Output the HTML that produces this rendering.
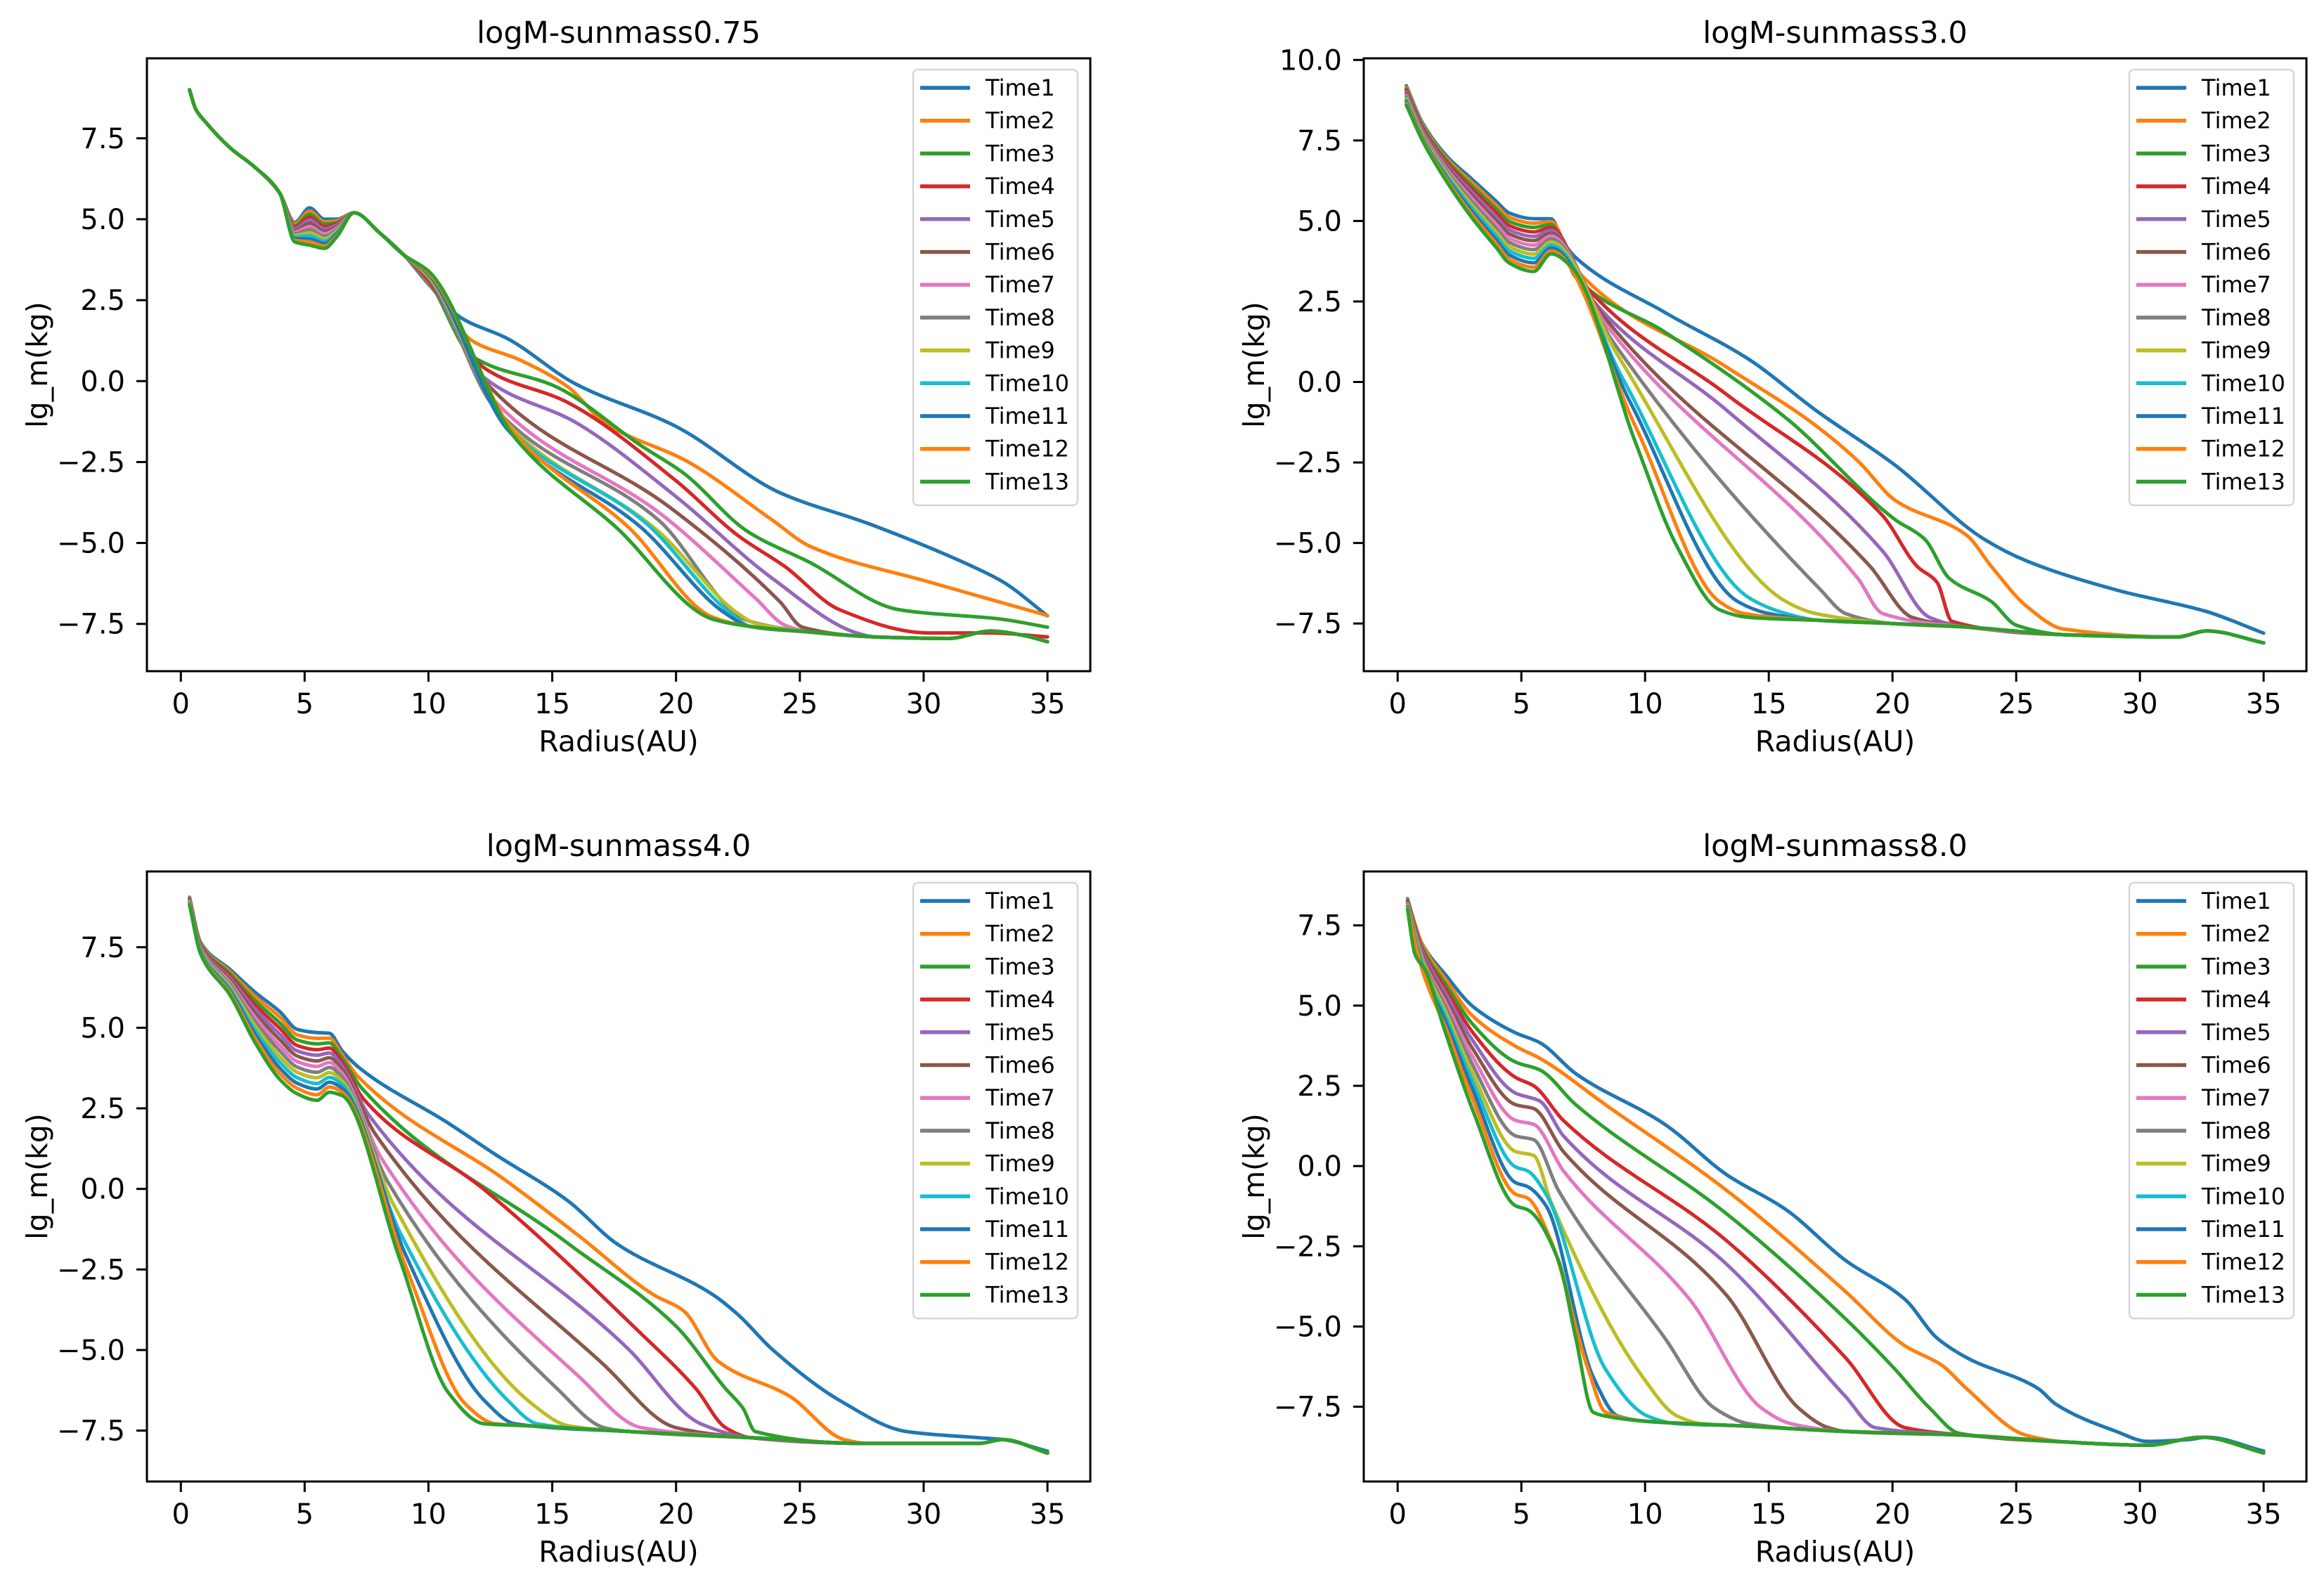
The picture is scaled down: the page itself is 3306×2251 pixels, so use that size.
<!DOCTYPE html>
<html><head><meta charset="utf-8"><style>
html,body{margin:0;padding:0;background:#fff;}
svg{display:block;font-family:"DejaVu Sans","Liberation Sans",sans-serif;}
</style></head><body>
<svg id="fig" xmlns="http://www.w3.org/2000/svg" width="3306" height="2251" viewBox="0 0 3306 2251"></svg>
<script>
// ---------- DATA ----------
const seriesNames = ["Time1","Time2","Time3","Time4","Time5","Time6","Time7","Time8","Time9","Time10","Time11","Time12","Time13"];
const xTicks = [0,5,10,15,20,25,30,35];
const xTickLabels = ["0","5","10","15","20","25","30","35"];
const yTicksA = [-7.5,-5,-2.5,0,2.5,5,7.5];
const yTicksB = [-7.5,-5,-2.5,0,2.5,5,7.5,10];
const panelTitles = ["logM-sunmass0.75","logM-sunmass3.0","logM-sunmass4.0","logM-sunmass8.0"];

// Panel 1: sunmass 0.75
const p1Series = [
 [[0.35,9.0],[0.6,8.4],[1,8.0],[2,7.2],[3,6.6],[4,5.8],[4.6,4.9],[5.2,5.35],[5.8,5.0],[6.3,5.0],[7,5.2],[8,4.6],[9,3.9],[10,3.0],[11.27,1.98],[13.2,1.31],[15.9,-0.07],[20,-1.4],[24.2,-3.45],[27.8,-4.41],[31.9,-5.7],[33.2,-6.2],[35,-7.25]],
 [[0.35,9.0],[0.6,8.4],[1,8.0],[2,7.2],[3,6.6],[4,5.8],[4.6,4.85],[5.2,5.25],[5.8,4.92],[6.3,4.95],[7,5.2],[8,4.6],[9,3.9],[10,3.05],[11.76,1.25],[13.7,0.65],[15.65,-0.19],[17.1,-1.28],[20.5,-2.5],[23.9,-4.3],[25.4,-5.1],[30.2,-6.2],[35,-7.24]],
 [[0.35,9.0],[0.6,8.4],[1,8.0],[2,7.2],[3,6.6],[4,5.8],[4.6,4.8],[5.2,5.15],[5.8,4.85],[6.3,4.9],[7,5.2],[8,4.6],[9,3.9],[10,3.1],[11.76,0.77],[15.2,-0.19],[18.6,-2.0],[20.3,-2.84],[22.9,-4.65],[25.4,-5.6],[29,-7.06],[33.2,-7.36],[35,-7.6]],
 [[0.35,9.0],[0.6,8.4],[1,8.0],[2,7.2],[3,6.6],[4,5.8],[4.6,4.75],[5.2,5.06],[5.8,4.77],[6.3,4.86],[7,5.2],[8,4.6],[9,3.9],[10,3.1],[12.25,0.41],[15.65,-0.67],[20,-3.08],[22.5,-4.77],[24.4,-5.73],[26.6,-7.06],[30.2,-7.78],[32.7,-7.78],[35,-7.9]],
 [[0.35,9.0],[0.6,8.4],[1,8.0],[2,7.2],[3,6.6],[4,5.8],[4.6,4.7],[5.2,4.97],[5.8,4.7],[6.3,4.82],[7,5.2],[8,4.6],[9,3.9],[10,3.15],[12.25,0.11],[16,-1.3],[20,-3.57],[23.9,-6.1],[27.3,-7.78]],
 [[0.35,9.0],[0.6,8.4],[1,8.0],[2,7.2],[3,6.6],[4,5.8],[4.6,4.65],[5.2,4.87],[5.8,4.62],[6.3,4.77],[7,5.2],[8,4.6],[9,3.9],[10,3.15],[12.5,-0.19],[19.8,-3.93],[24.2,-6.82],[25.1,-7.6]],
 [[0.35,9.0],[0.6,8.4],[1,8.0],[2,7.2],[3,6.6],[4,5.8],[4.6,4.6],[5.2,4.77],[5.8,4.55],[6.3,4.73],[7,5.2],[8,4.6],[9,3.9],[10,3.2],[12.6,-0.55],[19.5,-4.17],[23.2,-6.7],[24.4,-7.54]],
 [[0.35,9.0],[0.6,8.4],[1,8.0],[2,7.2],[3,6.6],[4,5.8],[4.6,4.55],[5.2,4.68],[5.8,4.47],[6.3,4.68],[7,5.2],[8,4.6],[9,3.9],[10,3.2],[12.7,-0.85],[19.3,-4.3],[22.9,-7.4]],
 [[0.35,9.0],[0.6,8.4],[1,8.0],[2,7.2],[3,6.6],[4,5.8],[4.6,4.5],[5.2,4.58],[5.8,4.4],[6.3,4.64],[7,5.2],[8,4.6],[9,3.9],[10,3.25],[13,-1.16],[19.3,-4.65],[22.5,-7.18],[23.2,-7.48]],
 [[0.35,9.0],[0.6,8.4],[1,8.0],[2,7.2],[3,6.6],[4,5.8],[4.6,4.45],[5.2,4.49],[5.8,4.32],[6.3,4.59],[7,5.2],[8,4.6],[9,3.9],[10,3.3],[13.2,-1.4],[18.8,-4.4],[22.2,-7.18]],
 [[0.35,9.0],[0.6,8.4],[1,8.0],[2,7.2],[3,6.6],[4,5.8],[4.6,4.4],[5.2,4.39],[5.8,4.25],[6.3,4.55],[7,5.2],[8,4.6],[9,3.9],[10,3.3],[13.2,-1.5],[18.6,-4.53],[22,-7.18]],
 [[0.35,9.0],[0.6,8.4],[1,8.0],[2,7.2],[3,6.6],[4,5.8],[4.6,4.35],[5.2,4.3],[5.8,4.17],[6.3,4.5],[7,5.2],[8,4.6],[9,3.9],[10,3.35],[13.5,-1.64],[18.1,-4.53],[21.5,-7.3]],
 [[0.35,9.0],[0.6,8.4],[1,8.0],[2,7.2],[3,6.6],[4,5.8],[4.6,4.3],[5.2,4.2],[5.8,4.1],[6.3,4.46],[7,5.2],[8,4.6],[9,3.9],[10,3.4],[13.5,-1.76],[17.6,-4.53],[21.5,-7.36]]
];
const p1Baseline = [[23,-7.58],[25.4,-7.75],[28,-7.9],[31,-7.95],[32.7,-7.72],[34,-7.85],[35,-8.05]];

// Panel 2: sunmass 3.0
const p2Series = [
 [[0.35,9.2],[1,8.05],[2,7.0],[3,6.3],[4,5.6],[4.5,5.25],[5.5,5.07],[6.2,5.07],[6.7,4.34],[7.2,3.86],[10.8,2.16],[14.2,0.7],[16.9,-0.88],[20.1,-2.58],[23.7,-4.88],[25.4,-5.55],[29.05,-6.46],[32.7,-7.13],[35,-7.8]],
 [[0.35,9.15],[1,8.0],[2,6.93],[3,6.2],[4,5.48],[4.5,5.12],[5.5,4.93],[6.2,4.98],[7.2,3.5],[13.3,0.46],[16.7,-1.24],[18.6,-2.45],[20.1,-3.67],[23,-4.76],[24,-5.73],[25.4,-6.95],[26.9,-7.67]],
 [[0.35,9.1],[1,7.95],[2,6.87],[3,6.1],[4,5.36],[4.5,4.99],[5.5,4.8],[6.2,4.89],[7.2,3.25],[10.8,1.55],[15.7,-1.12],[20.1,-4.27],[21.3,-4.88],[22.3,-6.1],[24,-6.82],[25,-7.55]],
 [[0.35,9.05],[1,7.9],[2,6.8],[3,6.0],[4,5.24],[4.5,4.86],[5.5,4.66],[6.2,4.8],[7.7,2.89],[13.3,-0.39],[19.6,-4.15],[21,-5.73],[21.8,-6.22],[22.4,-7.43]],
 [[0.35,9.0],[1,7.85],[2,6.73],[3,5.9],[4,5.12],[4.5,4.73],[5.5,4.52],[6.2,4.71],[7.9,2.52],[13.3,-0.88],[19.6,-5.25],[21.5,-7.31]],
 [[0.35,8.95],[1,7.8],[2,6.67],[3,5.8],[4,5.0],[4.5,4.6],[5.5,4.39],[6.2,4.62],[8.2,2.16],[19.1,-5.73],[20.8,-7.31]],
 [[0.35,8.9],[1,7.75],[2,6.6],[3,5.7],[4,4.88],[4.5,4.47],[5.5,4.25],[6.2,4.53],[8.4,1.8],[18.6,-6.1],[19.6,-7.19]],
 [[0.35,8.85],[1,7.7],[2,6.53],[3,5.6],[4,4.76],[4.5,4.34],[5.5,4.11],[6.2,4.44],[8.65,1.31],[17.1,-6.46],[18.1,-7.19]],
 [[0.35,8.8],[1,7.65],[2,6.47],[3,5.5],[4,4.64],[4.5,4.21],[5.5,3.97],[6.2,4.35],[8.9,0.82],[15.7,-6.82],[16.9,-7.19]],
 [[0.35,8.75],[1,7.6],[2,6.4],[3,5.4],[4,4.52],[4.5,4.08],[5.5,3.84],[6.2,4.25],[9.1,0.1],[14.2,-6.7],[15.7,-7.19]],
 [[0.35,8.7],[1,7.58],[2,6.33],[3,5.3],[4,4.4],[4.5,3.95],[5.5,3.7],[6.2,4.16],[9.4,-0.63],[13.75,-6.82],[15,-7.19]],
 [[0.35,8.65],[1,7.55],[2,6.27],[3,5.2],[4,4.28],[4.5,3.82],[5.5,3.56],[6.2,4.07],[9.6,-1.36],[13,-6.82],[14,-7.19]],
 [[0.35,8.6],[1,7.5],[2,6.2],[3,5.1],[4,4.16],[4.5,3.7],[5.5,3.43],[6.2,3.98],[7.0,3.6],[9.6,-1.85],[11.3,-5.12],[13,-7.07]]
];
const p2Baseline = [[14.2,-7.31],[17,-7.4],[20,-7.5],[23,-7.61],[27,-7.85],[31.5,-7.92],[32.7,-7.73],[35,-8.1]];

// Panel 3: sunmass 4.0
const p3Series = [
 [[0.35,9.05],[0.8,7.65],[2,6.8],[3,6.1],[4,5.5],[4.7,4.95],[5.5,4.85],[6.0,4.83],[6.5,4.3],[7.14,3.8],[10.8,2.04],[12.7,1.07],[15.65,-0.38],[17.6,-1.7],[21.5,-3.29],[22.5,-3.9],[23.9,-4.99],[26.6,-6.56],[29.3,-7.53],[32.2,-7.72],[33.2,-7.78],[35,-8.14]],
 [[0.35,9.03],[0.8,7.62],[2,6.73],[3,5.97],[4,5.33],[4.7,4.78],[5.5,4.67],[6.0,4.68],[6.5,4.18],[7.14,3.5],[13.2,0.22],[16.1,-1.47],[19.1,-3.29],[20.3,-3.78],[21.7,-5.35],[24.6,-6.44],[26.8,-7.78]],
 [[0.35,9.01],[0.8,7.59],[2,6.67],[3,5.84],[4,5.15],[4.7,4.62],[5.5,4.5],[6.0,4.53],[6.5,4.07],[7.3,3.13],[15.65,-1.7],[20,-4.26],[22,-6.2],[22.7,-6.8],[23.2,-7.53]],
 [[0.35,8.99],[0.8,7.56],[2,6.6],[3,5.71],[4,4.98],[4.7,4.45],[5.5,4.32],[6.0,4.37],[6.5,3.95],[7.4,2.77],[12.25,-0.02],[18.6,-4.5],[20.8,-6.2],[22,-7.41]],
 [[0.35,8.97],[0.8,7.53],[2,6.53],[3,5.58],[4,4.8],[4.7,4.28],[5.5,4.15],[6.0,4.22],[6.5,3.83],[7.6,2.28],[18.1,-4.99],[21,-7.29]],
 [[0.35,8.95],[0.8,7.5],[2,6.47],[3,5.45],[4,4.63],[4.7,4.12],[5.5,3.97],[6.0,4.07],[6.5,3.72],[7.87,1.68],[17.1,-5.47],[20,-7.41]],
 [[0.35,8.93],[0.8,7.47],[2,6.4],[3,5.32],[4,4.45],[4.7,3.95],[5.5,3.8],[6.0,3.92],[6.5,3.6],[8.1,0.95],[16.1,-5.84],[18.6,-7.41]],
 [[0.35,8.91],[0.8,7.44],[2,6.33],[3,5.19],[4,4.28],[4.7,3.78],[5.5,3.62],[6.0,3.77],[6.5,3.48],[8.36,0.22],[15.2,-6.2],[17.1,-7.41]],
 [[0.35,8.89],[0.8,7.41],[2,6.27],[3,5.06],[4,4.1],[4.7,3.62],[5.5,3.45],[6.0,3.61],[6.5,3.36],[8.6,-0.5],[14.2,-6.68],[15.65,-7.35]],
 [[0.35,8.87],[0.8,7.38],[2,6.2],[3,4.93],[4,3.93],[4.7,3.45],[5.5,3.27],[6.0,3.46],[6.5,3.25],[8.85,-1.35],[13.2,-6.56],[14.4,-7.29]],
 [[0.35,8.85],[0.8,7.35],[2,6.13],[3,4.8],[4,3.75],[4.7,3.28],[5.5,3.1],[6.0,3.31],[6.5,3.13],[9.1,-2.08],[12.25,-6.56],[13.5,-7.29]],
 [[0.35,8.83],[0.8,7.32],[2,6.07],[3,4.67],[4,3.58],[4.7,3.12],[5.5,2.92],[6.0,3.16],[6.5,3.01],[9.1,-2.44],[11.5,-6.68],[12.7,-7.29]],
 [[0.35,8.81],[0.8,7.29],[2,6.0],[3,4.54],[4,3.4],[4.7,2.95],[5.5,2.75],[6.0,3.0],[6.5,2.9],[8.85,-2.2],[10.8,-6.32],[12.25,-7.29]]
];
const p3Baseline = [[14,-7.35],[18.1,-7.53],[23,-7.72],[27.8,-7.9],[32.2,-7.9],[33.2,-7.78],[35,-8.2]];

// Panel 4: sunmass 8.0
const p4Series = [
 [[0.4,8.33],[0.9,7.06],[2,5.9],[3,5.0],[4.77,4.15],[5.74,3.85],[7.2,2.88],[10.8,1.3],[13.3,-0.27],[15.7,-1.36],[18.1,-2.94],[20.5,-4.15],[21.8,-5.36],[23,-5.97],[25.9,-6.94],[26.6,-7.42],[29.05,-8.27],[30.3,-8.58],[32,-8.52],[32.7,-8.45],[35,-8.88]],
 [[0.4,8.3],[1,6.9],[2,5.75],[3,4.7],[4.77,3.73],[5.74,3.36],[8.4,1.91],[13.3,-0.76],[18.1,-3.91],[20.5,-5.6],[22,-6.21],[23,-6.94],[25.4,-8.39]],
 [[0.4,8.28],[1,6.8],[2,5.6],[3,4.45],[4.77,3.24],[5.74,3.0],[7.2,1.91],[13.3,-1.49],[18.1,-4.76],[20.1,-6.33],[21.5,-7.54],[22.7,-8.33]],
 [[0.4,8.25],[1,6.75],[2,5.45],[3,4.2],[4.77,2.76],[5.5,2.5],[6.7,1.42],[13.3,-2.33],[18.1,-5.97],[20.5,-8.15]],
 [[0.4,8.22],[1,6.7],[2,5.3],[3,3.95],[4.77,2.27],[5.74,2.03],[6.7,0.94],[13.3,-3.06],[18.1,-7.18],[19.3,-8.15]],
 [[0.4,8.2],[1,6.6],[2,5.15],[3,3.7],[4.77,1.91],[5.5,1.79],[6.7,0.45],[13.3,-4.03],[16.2,-7.54],[17.4,-8.15]],
 [[0.4,8.17],[1,6.5],[2,5.0],[3,3.45],[4.77,1.42],[5.5,1.3],[6.7,-0.15],[11.8,-4.15],[14.7,-7.54],[15.9,-8.03]],
 [[0.4,8.14],[1,6.45],[2,4.85],[3,3.2],[4.77,0.94],[5.5,0.82],[6.5,-0.76],[10.8,-5.36],[12.8,-7.54],[14.2,-8.03]],
 [[0.4,8.12],[1,6.4],[2,4.7],[3,2.95],[4.77,0.45],[5.5,0.33],[6.2,-1.12],[9.9,-6.57],[11.3,-7.79],[12.3,-8.03]],
 [[0.4,8.1],[1,6.3],[2,4.55],[3,2.7],[4.77,-0.03],[5.25,-0.15],[6,-0.88],[8.4,-6.33],[10.1,-7.79],[11.3,-8.03]],
 [[0.4,8.07],[1,6.2],[2,4.4],[3,2.45],[4.77,-0.52],[5.25,-0.64],[6,-1.24],[7.9,-6.57],[8.9,-7.79]],
 [[0.4,8.04],[1,6.1],[2,4.2],[3,2.15],[4.77,-0.88],[5.25,-1.0],[6.2,-2.33],[7.7,-6.33],[8.4,-7.67]],
 [[0.4,8.0],[0.7,6.6],[1.13,6.09],[1.86,4.33],[3.07,1.67],[4.77,-1.24],[5.25,-1.36],[6.5,-2.94],[7.2,-5.36],[7.9,-7.67],[8.4,-7.79]]
];
const p4Baseline = [[10,-7.95],[14,-8.1],[18.1,-8.27],[23,-8.39],[27,-8.6],[30.3,-8.7],[32.5,-8.45],[35,-8.94]];

const yLimits = [[-8.96,9.97],[-8.98,10.05],[-9.08,9.85],[-9.83,9.18]];
const xLimit = [-1.37,36.73];

// ---------- RENDER ----------
const colors = ["#1f77b4","#ff7f0e","#2ca02c","#d62728","#9467bd","#8c564b","#e377c2","#7f7f7f","#bcbd22","#17becf","#1f77b4","#ff7f0e","#2ca02c"];
const NS = "http://www.w3.org/2000/svg";
const svg = document.getElementById("fig");
function mk(tag, attrs, parent){
  const e = document.createElementNS(NS, tag);
  for (const k in attrs) e.setAttribute(k, attrs[k]);
  (parent||svg).appendChild(e);
  return e;
}
const boxes = [
  {L:209,R:1551,T:83,B:955},
  {L:1940,R:3281,T:83,B:955},
  {L:209,R:1551,T:1240,B:2108},
  {L:1940,R:3281,T:1240,B:2108}
];
const allSeries = [p1Series,p2Series,p3Series,p4Series];
const allBase = [p1Baseline,p2Baseline,p3Baseline,p4Baseline];
const yTickSets = [yTicksA,yTicksB,yTicksA,yTicksA];

function fmt(v){ const s=v.toFixed(1); return v<0 ? "\u2212"+s.slice(1) : s; }

// monotone cubic (Fritsch-Carlson) path through screen points with increasing x
function monoPath(p){
  const n=p.length;
  const dx=[],dy=[],m=[];
  for(let i=0;i<n-1;i++){dx[i]=p[i+1][0]-p[i][0];dy[i]=p[i+1][1]-p[i][1];m[i]=dy[i]/dx[i];}
  const t=[m[0]];
  for(let i=1;i<n-1;i++){
    if(m[i-1]*m[i]<=0) t[i]=0;
    else { const w1=2*dx[i]+dx[i-1], w2=dx[i]+2*dx[i-1]; t[i]=(w1+w2)/(w1/m[i-1]+w2/m[i]); }
  }
  t[n-1]=m[n-2];
  let d="M"+p[0][0].toFixed(1)+","+p[0][1].toFixed(1);
  for(let i=0;i<n-1;i++){
    const h=dx[i]/3;
    d+=" C"+(p[i][0]+h).toFixed(1)+","+(p[i][1]+t[i]*h).toFixed(1)+" "+(p[i+1][0]-h).toFixed(1)+","+(p[i+1][1]-t[i+1]*h).toFixed(1)+" "+p[i+1][0].toFixed(1)+","+p[i+1][1].toFixed(1);
  }
  return d;
}

boxes.forEach((b,pi)=>{
  const g = mk("g",{});
  
  
  const [y0,y1] = yLimits[pi];
  const xs = v => b.L + (v-xLimit[0])/(xLimit[1]-xLimit[0])*(b.R-b.L);
  const ys = v => b.B - (v-y0)/(y1-y0)*(b.B-b.T);

  const clipId = "clip"+pi;
  const cp = mk("clipPath",{id:clipId},g);
  mk("rect",{x:b.L,y:b.T,width:b.R-b.L,height:b.B-b.T},cp);

  const lg = mk("g",{"clip-path":"url(#"+clipId+")"},g);
  
  
  allSeries[pi].forEach((s,si)=>{
    const last = s[s.length-1][0];
    const full = s.concat(allBase[pi].filter(p=>p[0]>last+0.6));
    const pts = full.map(p=>[xs(p[0]),ys(p[1])]);
    const path = mk("path",{d:monoPath(pts),fill:"none",stroke:colors[si],"stroke-width":5,"stroke-linejoin":"round","stroke-linecap":"round"},lg);
    
    
  });

  const fr = mk("rect",{x:b.L,y:b.T,width:b.R-b.L,height:b.B-b.T,fill:"none",stroke:"#000","stroke-width":3},g);
  
  

  xTicks.forEach((t,ti)=>{
    const x = xs(t);
    mk("line",{x1:x,y1:b.B,x2:x,y2:b.B+15,stroke:"#000","stroke-width":3},g);
    const tx = mk("text",{x:x,y:b.B+60,"font-size":40,"text-anchor":"middle",fill:"#000"},g);
    tx.textContent = xTickLabels[ti];
    
    
  });
  yTickSets[pi].forEach(t=>{
    const y = ys(t);
    mk("line",{x1:b.L-15,y1:y,x2:b.L,y2:y,stroke:"#000","stroke-width":3},g);
    const tx = mk("text",{x:b.L-31,y:y+14,"font-size":40,"text-anchor":"end",fill:"#000"},g);
    tx.textContent = fmt(t);
    
    
  });
  const ti = mk("text",{x:(b.L+b.R)/2,y:b.T-22,"font-size":43,"text-anchor":"middle",fill:"#000"},g);
  ti.textContent = panelTitles[pi];
  
  
  const xl = mk("text",{x:(b.L+b.R)/2,y:b.B+114,"font-size":41,"text-anchor":"middle",fill:"#000"},g);
  xl.textContent = "Radius(AU)";
  
  
  const cy = (b.T+b.B)/2;
  const yl = mk("text",{x:0,y:0,"font-size":41,"text-anchor":"middle",fill:"#000",transform:"translate("+(b.L-142)+","+cy+") rotate(-90)"},g);
  yl.textContent = "lg_m(kg)";
  
  

  const leg = mk("g",{},g);
  
  
  mk("rect",{x:b.R-252,y:b.T+16,width:234,height:620,rx:7,fill:"#fff","fill-opacity":0.85,stroke:"#d6d6d6","stroke-width":2.5},leg);
  seriesNames.forEach((n,si)=>{
    const y = b.T+42+si*46.7;
    const e = mk("g",{},leg);
    
    
    mk("line",{x1:b.R-242,y1:y,x2:b.R-171,y2:y,stroke:colors[si],"stroke-width":5.5},e);
    const t = mk("text",{x:b.R-149,y:y+11,"font-size":32,fill:"#000"},e);
    t.textContent = n;
  });
});
</script>
</body></html>
